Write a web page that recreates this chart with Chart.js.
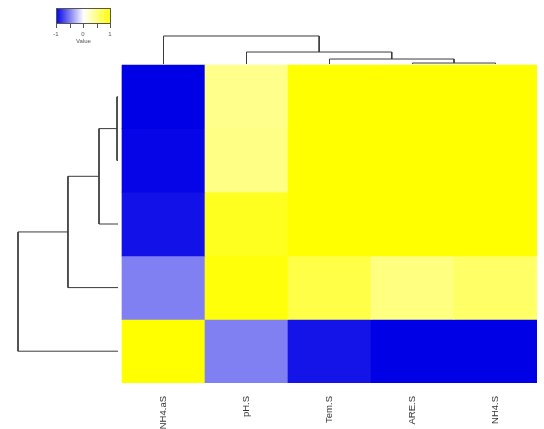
<!DOCTYPE html>
<html>
<head>
<meta charset="utf-8">
<script src="https://cdn.jsdelivr.net/npm/chart.js@4/dist/chart.umd.min.js"></script>
<style>
html,body{margin:0;padding:0;background:#fff;}
#wrap{width:544px;height:429px;position:relative;}
</style>
</head>
<body>
<div id="wrap"><canvas id="c" width="544" height="429"></canvas></div>
<script>
// ---- data ----
const columns = ["NH4.aS", "pH.S", "Tem.S", "ARE.S", "NH4.S"];
// heatmap rows, top to bottom
const row1 = [-1.00, 0.45, 1.00, 1.00, 1.00];
const row2 = [-0.98, 0.48, 1.00, 1.00, 1.00];
const row3 = [-0.93, 0.88, 1.00, 1.00, 1.00];
const row4 = [-0.50, 0.96, 0.72, 0.50, 0.60];
const row5 = [ 1.00, -0.50, -0.92, -1.00, -1.00];
const rows = [row1, row2, row3, row4, row5];
// hclust-style merges: negative = leaf (1-based), positive = earlier merge; third = height
const rowMerges = [[-1, -2, 0.06], [1, -3, 0.277], [2, -4, 0.651], [3, -5, 1.253]];
const colMerges = [[-4, -5, 0.031], [-3, 1, 0.094], [-2, 2, 0.204], [-1, 3, 0.456]];
const keyTicks = [-1, -0.5, 0, 0.5, 1];
const keyLabels = ["-1", "0", "1"];

// ---- colours ----
function colorFor(v) {
  const t = Math.max(-1, Math.min(1, v));
  let r, g, b;
  if (t < 0) { const a = -t; r = 255 * (1 - a); g = 255 * (1 - a); b = 255 + (230 - 255) * a; }
  else { r = 255; g = 255; b = 255 * (1 - t); }
  return `rgb(${Math.round(r)},${Math.round(g)},${Math.round(b)})`;
}

const nR = rows.length, nC = columns.length;
const datasets = [];
rows.forEach((vals, i) => {
  datasets.push({
    type: 'bar',
    grouped: false,
    data: vals.map((v, j) => ({ x: j + 0.5, y: [nR - i - 1, nR - i] })),
    backgroundColor: vals.map(colorFor),
    borderWidth: 0,
    barPercentage: 1,
    categoryPercentage: 1,
    order: 2
  });
});

// dendrogram segments
function dendro(merges, leafPos, leafBase, orient) {
  const info = [];
  const pos = (id) => id < 0 ? { p: leafPos(-id - 1), h: leafBase } : info[id - 1];
  merges.forEach(([a, b, h]) => {
    const A = pos(a), B = pos(b);
    const pts = [[A.p, A.h], [A.p, h], [B.p, h], [B.p, B.h]];
    const data = pts.map(([p, hh]) => orient === 'row' ? { x: -hh, y: p } : { x: p, y: nR + hh });
    datasets.push({
      type: 'line', data, borderColor: '#3a3a3a', borderWidth: 1,
      pointRadius: 0, fill: false, tension: 0, order: 1
    });
    info.push({ p: (A.p + B.p) / 2, h });
  });
}
dendro(rowMerges, (i) => nR - i - 0.5, 0.048, 'row');
dendro(colMerges, (j) => j + 0.5, 0.016, 'col');

const keyPlugin = {
  id: 'colorKey',
  afterDraw(chart) {
    const ctx = chart.ctx;
    const x0 = 56, x1 = 111, y0 = 8, y1 = 24;
    const g = ctx.createLinearGradient(x0, 0, x1, 0);
    g.addColorStop(0, colorFor(-1));
    g.addColorStop(0.5, colorFor(0));
    g.addColorStop(1, colorFor(1));
    ctx.save();
    ctx.fillStyle = g;
    ctx.fillRect(x0, y0, x1 - x0, y1 - y0);
    ctx.strokeStyle = '#555'; ctx.lineWidth = 1;
    ctx.strokeRect(x0 + 0.5, y0 + 0.5, x1 - x0 - 1, y1 - y0 - 1);
    ctx.beginPath();
    keyTicks.forEach(t => {
      const x = Math.round(x0 + (t + 1) / 2 * (x1 - x0 - 1)) + 0.5;
      ctx.moveTo(x, y1); ctx.lineTo(x, y1 + 4);
    });
    ctx.stroke();
    ctx.fillStyle = '#555';
    ctx.font = '6px "Liberation Sans", Arial, sans-serif';
    ctx.textAlign = 'center'; ctx.textBaseline = 'middle';
    [-1, 0, 1].forEach((t, k) => {
      ctx.fillText(keyLabels[k], x0 + (t + 1) / 2 * (x1 - x0 - 1), 34);
    });
    ctx.fillText('Value', (x0 + x1) / 2, 41);
    ctx.restore();
  }
};

new Chart(document.getElementById('c'), {
  data: { datasets },
  options: {
    responsive: false,
    animation: false,
    layout: { padding: { left: 10, right: 7, top: 30, bottom: 0 } },
    plugins: { legend: { display: false }, tooltip: { enabled: false } },
    scales: {
      x: {
        type: 'linear', min: -112 / 83, max: nC, offset: false,
        grid: { display: false, offset: false }, border: { display: false },
        afterBuildTicks(scale) { scale.ticks = columns.map((c, j) => ({ value: j + 0.5 })); },
        afterFit(scale) { scale.height = 46; scale.paddingLeft = 0; scale.paddingRight = 0; },
        ticks: {
          autoSkip: false, maxRotation: 90, minRotation: 90, padding: 5,
          color: '#333', font: { size: 9.5, family: '"Liberation Sans", Arial, sans-serif' },
          callback(value, index) { return columns[index]; }
        }
      },
      y: { type: 'linear', min: 0, max: nR + 35 / 63.6, display: false }
    }
  },
  plugins: [keyPlugin]
});
</script>
</body>
</html>
